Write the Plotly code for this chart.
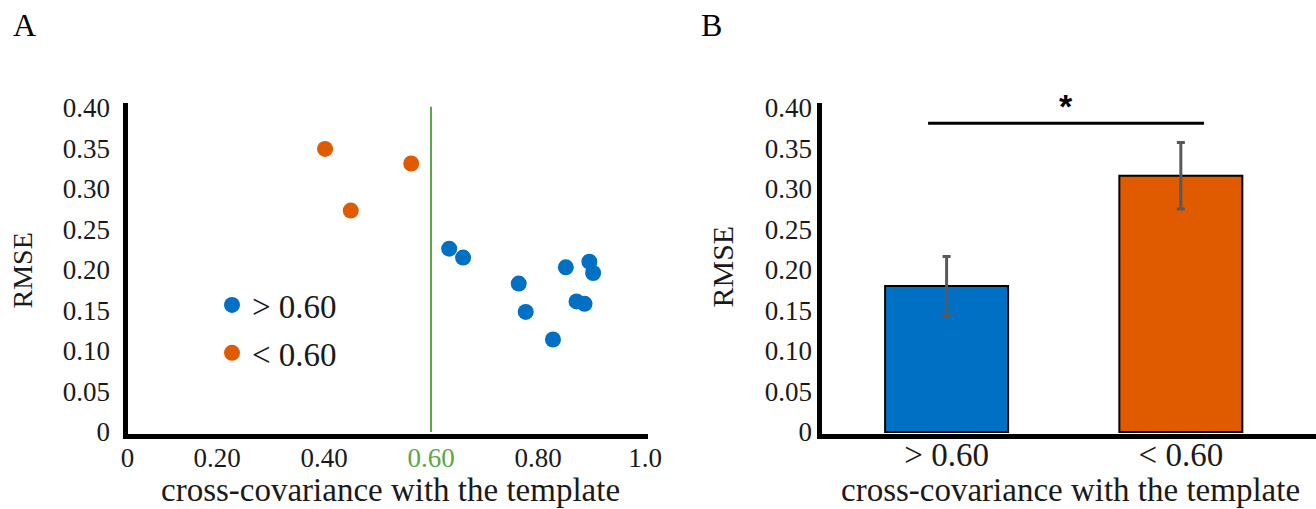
import plotly.graph_objects as go

# ---------------- data ----------------
# Panel A: scatter of RMSE vs cross-covariance
HIGH_X = [0.634, 0.660, 0.764, 0.777, 0.828, 0.852, 0.896, 0.903, 0.872, 0.887]
HIGH_Y = [0.226, 0.215, 0.183, 0.148, 0.114, 0.203, 0.210, 0.196, 0.161, 0.158]
LOW_X = [0.402, 0.450, 0.563]
LOW_Y = [0.349, 0.273, 0.331]
THRESHOLD = 0.60
SERIES_NAMES = ["> 0.60", "< 0.60"]

# Panel B: mean RMSE by group with error bars
CATEGORIES = ["> 0.60", "< 0.60"]
MEANS = [0.180, 0.316]
ERRORS = [0.0365, 0.041]

Y_TICKS = [0, 0.05, 0.10, 0.15, 0.20, 0.25, 0.30, 0.35, 0.40]
Y_TICK_TEXT = ["0", "0.05", "0.10", "0.15", "0.20", "0.25", "0.30", "0.35", "0.40"]
X_TICK_TEXT = ["0", "0.20", "0.40", "0.60", "0.80", "1.0"]
X_TICKS_INNER = [0.2, 0.4, 0.6, 0.8, 1.0]

# ---------------- style ----------------
BLUE = "#0070C4"
ORANGE = "#E05A00"
GREEN = "#5AA646"
FONT = "Liberation Serif"
TXT = "#1a1a1a"
W, H = 1316, 509

X_MIN, X_MAX = 0.0327, 1.0056
Y_MIN, Y_MAX = -0.0025, 0.406


def px(x):
    return x / W


def py(y):
    return (H - y) / H


fig = go.Figure()

fig.add_trace(go.Scatter(
    x=HIGH_X, y=HIGH_Y, mode="markers", name=SERIES_NAMES[0],
    marker=dict(color=BLUE, size=16, line=dict(width=0)),
    xaxis="x", yaxis="y", legendgroup="a",
))
fig.add_trace(go.Scatter(
    x=LOW_X, y=LOW_Y, mode="markers", name=SERIES_NAMES[1],
    marker=dict(color=ORANGE, size=16, line=dict(width=0)),
    xaxis="x", yaxis="y", legendgroup="b",
))

fig.add_trace(go.Bar(
    x=CATEGORIES, y=MEANS, width=0.525,
    marker=dict(color=[BLUE, ORANGE], line=dict(color="black", width=2)),
    error_y=dict(type="data", array=ERRORS, color="#595959", thickness=3, width=4),
    xaxis="x2", yaxis="y2", showlegend=False,
))

x_tickvals = [X_MIN] + X_TICKS_INNER
x_ticktext = [
    f'<span style="color:{GREEN}">{t}</span>' if abs(v - THRESHOLD) < 1e-9 else t
    for v, t in zip(x_tickvals, X_TICK_TEXT)
]

tickfont = dict(family=FONT, size=27, color=TXT)

fig.update_layout(
    width=W, height=H,
    margin=dict(l=0, r=0, t=0, b=0, pad=0, autoexpand=False),
    paper_bgcolor="white", plot_bgcolor="white",
    showlegend=True,
    legend=dict(
        x=px(212), y=py(277), xanchor="left", yanchor="top",
        font=dict(family=FONT, size=33, color=TXT),
        bgcolor="rgba(0,0,0,0)", traceorder="grouped", tracegroupgap=2,
        itemsizing="trace",
    ),
    xaxis=dict(
        domain=[px(127.5), px(648)], range=[X_MIN, X_MAX],
        tickvals=x_tickvals, ticktext=x_ticktext, tickfont=tickfont,
        showline=True, linecolor="black", linewidth=5, showgrid=False,
        zeroline=False, ticks="", ticklabelstandoff=-4, anchor="y",
        automargin=False,
    ),
    yaxis=dict(
        domain=[py(434), py(102.7)], range=[Y_MIN, Y_MAX],
        tickvals=Y_TICKS, ticktext=Y_TICK_TEXT, tickfont=tickfont,
        showline=True, linecolor="black", linewidth=5, showgrid=False,
        zeroline=False, ticks="", ticklabelstandoff=7, anchor="x",
        automargin=False,
    ),
    xaxis2=dict(
        domain=[px(821.5), 1.0], range=[-0.534, 1.577],
        type="category", tickfont=dict(family=FONT, size=33, color=TXT),
        showline=True, linecolor="black", linewidth=5, showgrid=False,
        zeroline=False, ticks="", ticklabelstandoff=-13, anchor="y2",
        automargin=False,
    ),
    yaxis2=dict(
        domain=[py(434), py(102.7)], range=[Y_MIN, Y_MAX],
        tickvals=Y_TICKS, ticktext=Y_TICK_TEXT, tickfont=tickfont,
        showline=True, linecolor="black", linewidth=5, showgrid=False,
        zeroline=False, ticks="", ticklabelstandoff=-1, anchor="x2",
        automargin=False,
    ),
)

# threshold line in panel A
fig.add_shape(type="line", xref="x", yref="y", x0=THRESHOLD, x1=THRESHOLD,
              y0=0, y1=0.401, line=dict(color=GREEN, width=2))

# significance bracket in panel B
fig.add_shape(type="line", xref="x2", yref="y2", x0=-0.079, x1=1.099,
              y0=0.3806, y1=0.3806, line=dict(color="black", width=3))

ann = []
ann.append(dict(text="<b>*</b>", xref="x2", yref="y2", x=0.509, y=0.402,
                showarrow=False, xanchor="center", yanchor="middle",
                font=dict(family="Liberation Sans", size=34, color="black")))
for t, x, y in [("A", 24, 25), ("B", 711, 25)]:
    ann.append(dict(text=t, xref="paper", yref="paper", x=px(x), y=py(y),
                    showarrow=False, xanchor="center", yanchor="middle",
                    font=dict(family=FONT, size=32, color="black")))
for x, y, s in [(22.5, 271, 28), (721.5, 267, 30)]:
    ann.append(dict(text="RMSE", xref="paper", yref="paper", x=px(x), y=py(y),
                    showarrow=False, xanchor="center", yanchor="middle", textangle=-90,
                    font=dict(family=FONT, size=s, color=TXT)))
for x, y in [(390, 490), (1070, 490)]:
    ann.append(dict(text="cross-covariance with the template", xref="paper", yref="paper",
                    x=px(x), y=py(y), showarrow=False, xanchor="center", yanchor="middle",
                    font=dict(family=FONT, size=33, color=TXT)))
fig.update_layout(annotations=ann)

fig.write_html(
    "out.html",
    config={"displayModeBar": False},
    post_script="document.body.style.margin='0';document.body.style.overflow='hidden';",
)
